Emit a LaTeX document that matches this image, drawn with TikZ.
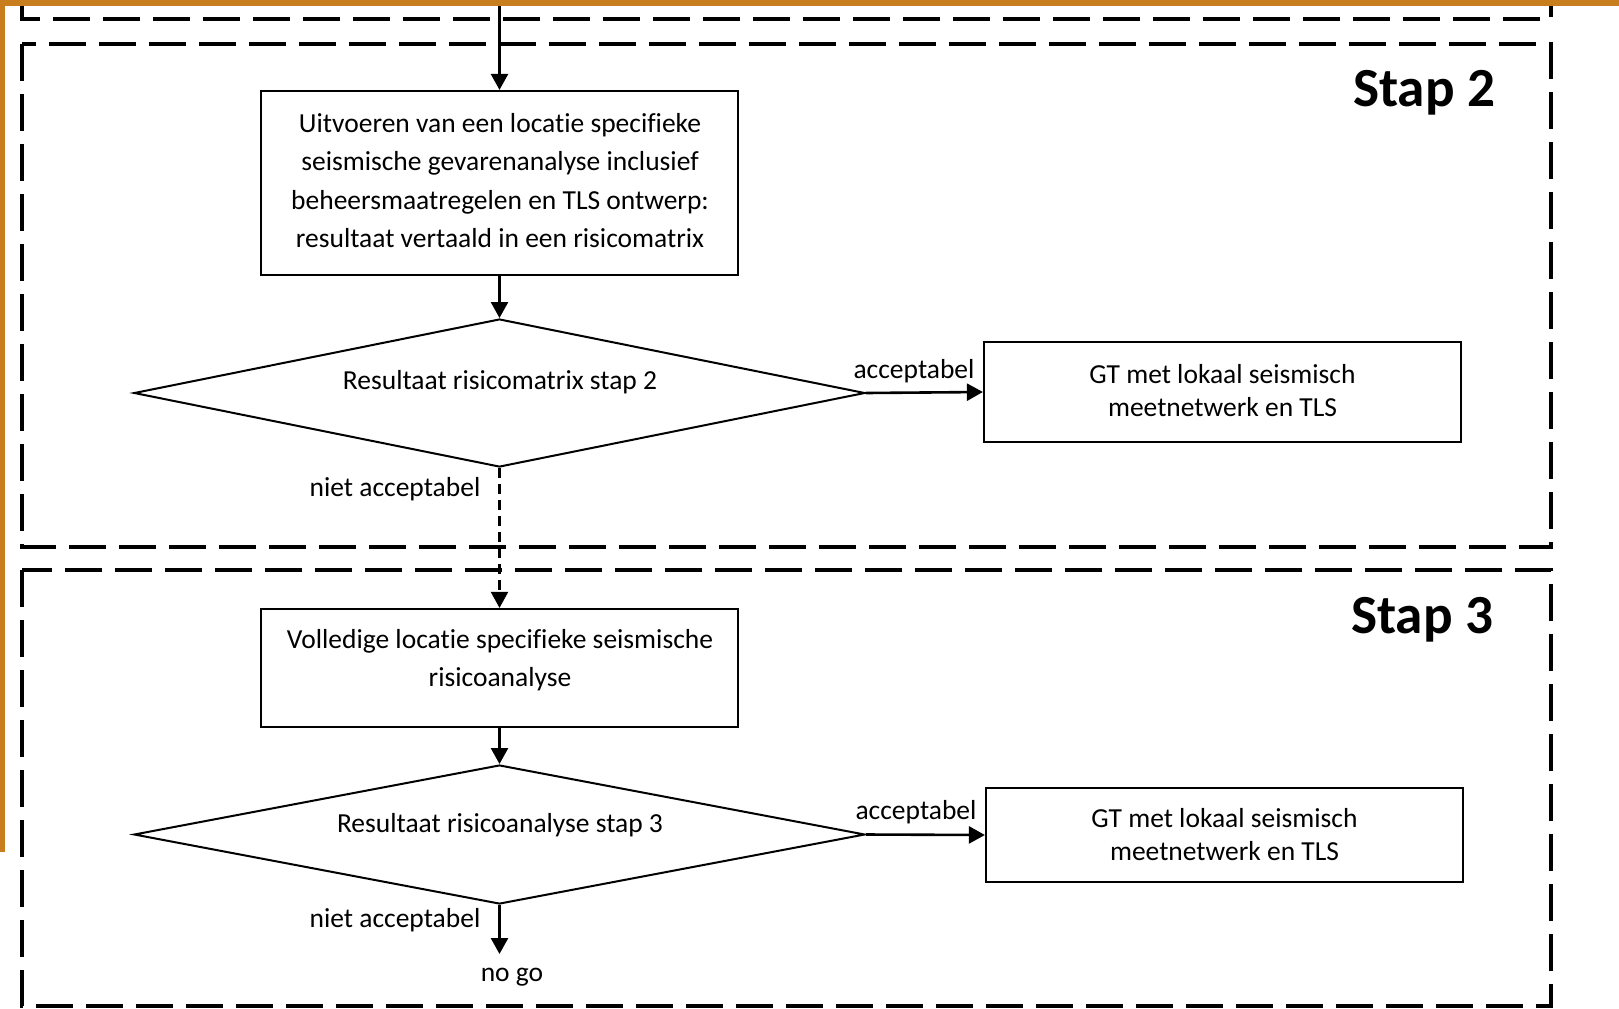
\documentclass[tikz,border=0pt]{standalone}
\usepackage{fontspec}
\setmainfont{Carlito}[Ligatures={NoCommon}]
\usetikzlibrary{arrows.meta,shapes.geometric}
\definecolor{bandorange}{RGB}{200,125,30}
\begin{document}
\begin{tikzpicture}[x=0.5pt,y=-0.5pt,
  stepbox/.style={draw,line width=1.1pt,inner sep=0pt,minimum width=238.5pt},
  decision/.style={draw,diamond,line width=1pt,inner sep=0pt,minimum width=365.5pt},
  txt/.style={font=\fontsize{13.75}{19.1}\selectfont,align=center,inner sep=0pt},
  gttxt/.style={font=\fontsize{13.75}{16.5}\selectfont,align=center,inner sep=0pt},
  arr/.style={line width=1.3pt,-{Triangle[width=8.5pt,length=8pt]}},
  dasharr/.style={arr,dash pattern=on 5pt off 3pt,line width=1.1pt},
  phase/.style={draw,line width=2pt,dash pattern=on 18.5pt off 6.5pt},
  stepttl/.style={font=\fontsize{27.6}{32}\selectfont\bfseries,inner sep=0pt}]
\useasboundingbox (0,0) rectangle (1619,1008);
% phase frames
\draw[phase] (22,0) -- (22,19) -- (1551,19) -- (1551,0);
\draw[phase] (22,44) rectangle (1551,547);
\draw[phase] (22,570) rectangle (1551,1006);
% step titles
\node[stepttl] (s2) at (1424,93) {Stap 2};
\node[stepttl] (s3) at (1422,620) {Stap 3};
% boxes
\node[stepbox,minimum height=92pt] (b1) at (499.5,183) {};
\node[txt] (b1t) at (500,180.5) {Uitvoeren van een locatie specifieke\\seismische gevarenanalyse inclusief\\beheersmaatregelen en TLS ontwerp:\\resultaat vertaald in een risicomatrix};
\node[decision,minimum height=74pt] (d1) at (499.5,393) {};
\node[txt] (d1t) at (500,382.5) {Resultaat risicomatrix stap 2};
\node[stepbox,minimum height=50pt] (g1) at (1222.5,392) {};
\node[gttxt] (g1t) at (1222.5,390.5) {GT met lokaal seismisch\\meetnetwerk en TLS};
\node[stepbox,minimum height=59pt] (b2) at (499.5,668) {};
\node[txt] (b2t) at (500,660.5) {Volledige locatie specifieke seismische\\risicoanalyse};
\node[decision,minimum height=69.5pt] (d2) at (499.5,834.5) {};
\node[txt] (d2t) at (500,825) {Resultaat risicoanalyse stap 3};
\node[stepbox,minimum height=47pt] (g2) at (1224.5,835) {};
\node[gttxt] (g2t) at (1224.5,835) {GT met lokaal seismisch\\meetnetwerk en TLS};
% labels
\node[txt] (acc1) at (914,371) {acceptabel};
\node[txt] (nacc1) at (395,489.5) {niet acceptabel};
\node[txt] (acc2) at (916,812) {acceptabel};
\node[txt] (nacc2) at (395,920.5) {niet acceptabel};
\node[txt] (nogo) at (512,977) {no go};
% connectors
\coordinate (topin) at (499.5,0);
\coordinate (nogoin) at (499.5,954);
\draw[arr] (topin) -- (b1.north);
\draw[arr] (b1.south) -- (d1.north);
\draw[arr] (d1.east) -- (g1.west);
\draw[dasharr] (d1.south) -- (b2.north);
\draw[arr] (b2.south) -- (d2.north);
\draw[arr] (d2.east) -- (g2.west);
\draw[arr] (d2.south) -- (nogoin);
% orange bands
\fill[bandorange] (0,0) rectangle (1619,6);
\fill[bandorange] (0,0) rectangle (5,852);
\end{tikzpicture}
\end{document}
